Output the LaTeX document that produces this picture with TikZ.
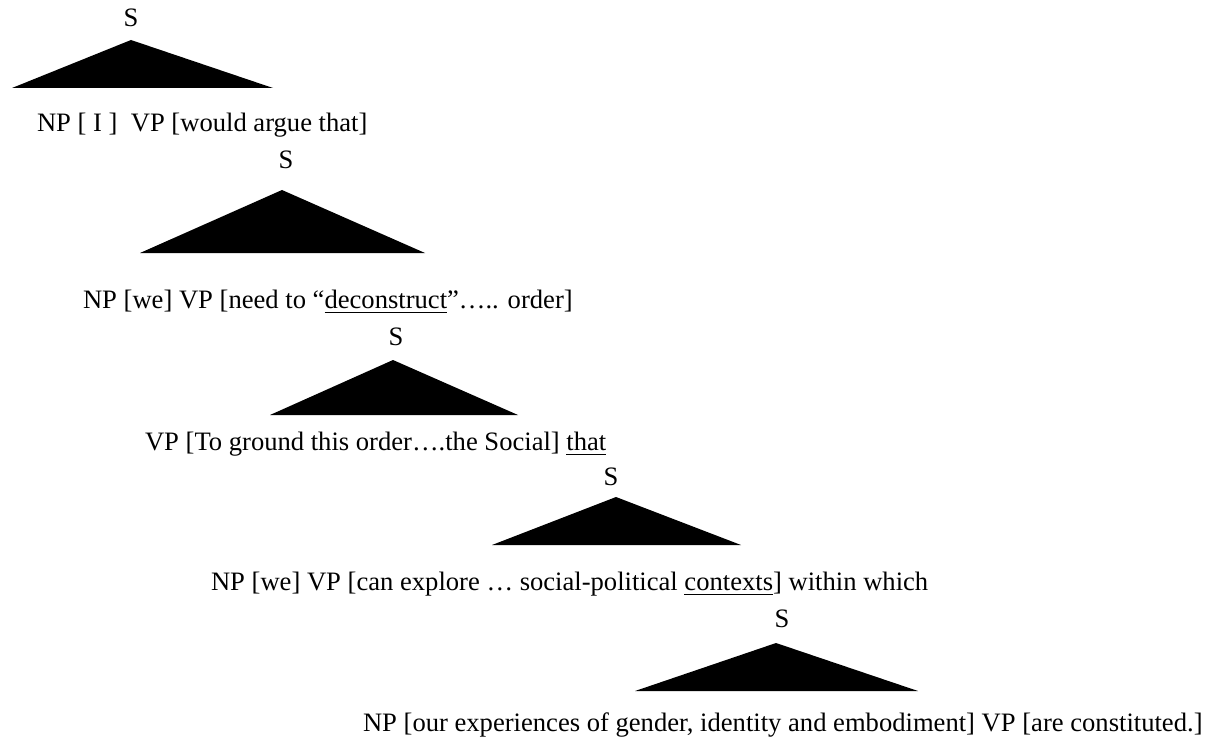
\documentclass[tikz,border=0pt]{standalone}
\usepackage{fontspec}
\setmainfont{Liberation Serif}

% underline drawn a little below the baseline, as in a word processor
\newsavebox\ulbox
\newcommand\ulword[1]{\sbox\ulbox{#1}\rlap{\rule[-5pt]{\wd\ulbox}{1.4pt}}\usebox\ulbox}

\begin{document}
\begin{tikzpicture}[x=1pt, y=-1pt,
  every node/.style={inner sep=0pt, outer sep=0pt},
  symb/.style={font=\fontsize{26.6pt}{30pt}\selectfont, anchor=base},
  phrase/.style={font=\fontsize{26.6pt}{30pt}\selectfont, anchor=base west},
  wedge/.style={fill=black, draw=none}]
\useasboundingbox (0,0) rectangle (1209,738);

% level 1
\node[symb] (s1) at (131,27) {S};
\coordinate (a1) at (131,40);
\coordinate (l1) at (12,88);
\coordinate (r1) at (273,88);
\fill[wedge] (a1) -- (l1) -- (r1) -- cycle;
\node[phrase] (p1) at (37,132) {NP [ I ]\ \ VP [would argue that]};

% level 2
\node[symb] (s2) at (286,169) {S};
\coordinate (a2) at (282,190);
\coordinate (l2) at (140,253);
\coordinate (r2) at (425,253);
\fill[wedge] (a2) -- (l2) -- (r2) -- cycle;
\node[phrase] (p2) at (83,308) {NP [we] VP [need to “\ulword{deconstruct}”….. order]};

% level 3
\node[symb] (s3) at (396,345) {S};
\coordinate (a3) at (393,360);
\coordinate (l3) at (270,415);
\coordinate (r3) at (518,415);
\fill[wedge] (a3) -- (l3) -- (r3) -- cycle;
\node[phrase] (p3) at (145,450) {VP [To ground this order….the Social] \ulword{that}};

% level 4
\node[symb] (s4) at (611,485) {S};
\coordinate (a4) at (616,497);
\coordinate (l4) at (492,545);
\coordinate (r4) at (741,545);
\fill[wedge] (a4) -- (l4) -- (r4) -- cycle;
\node[phrase] (p4) at (211,590) {NP [we] VP [can explore … social-political \ulword{contexts}] within which};

% level 5
\node[symb] (s5) at (782,627) {S};
\coordinate (a5) at (776,643);
\coordinate (l5) at (635,691);
\coordinate (r5) at (918,691);
\fill[wedge] (a5) -- (l5) -- (r5) -- cycle;
\node[phrase] (p5) at (363,731) {NP [our experiences of gender, identity and embodiment] VP [are constituted.]};
\end{tikzpicture}
\end{document}
